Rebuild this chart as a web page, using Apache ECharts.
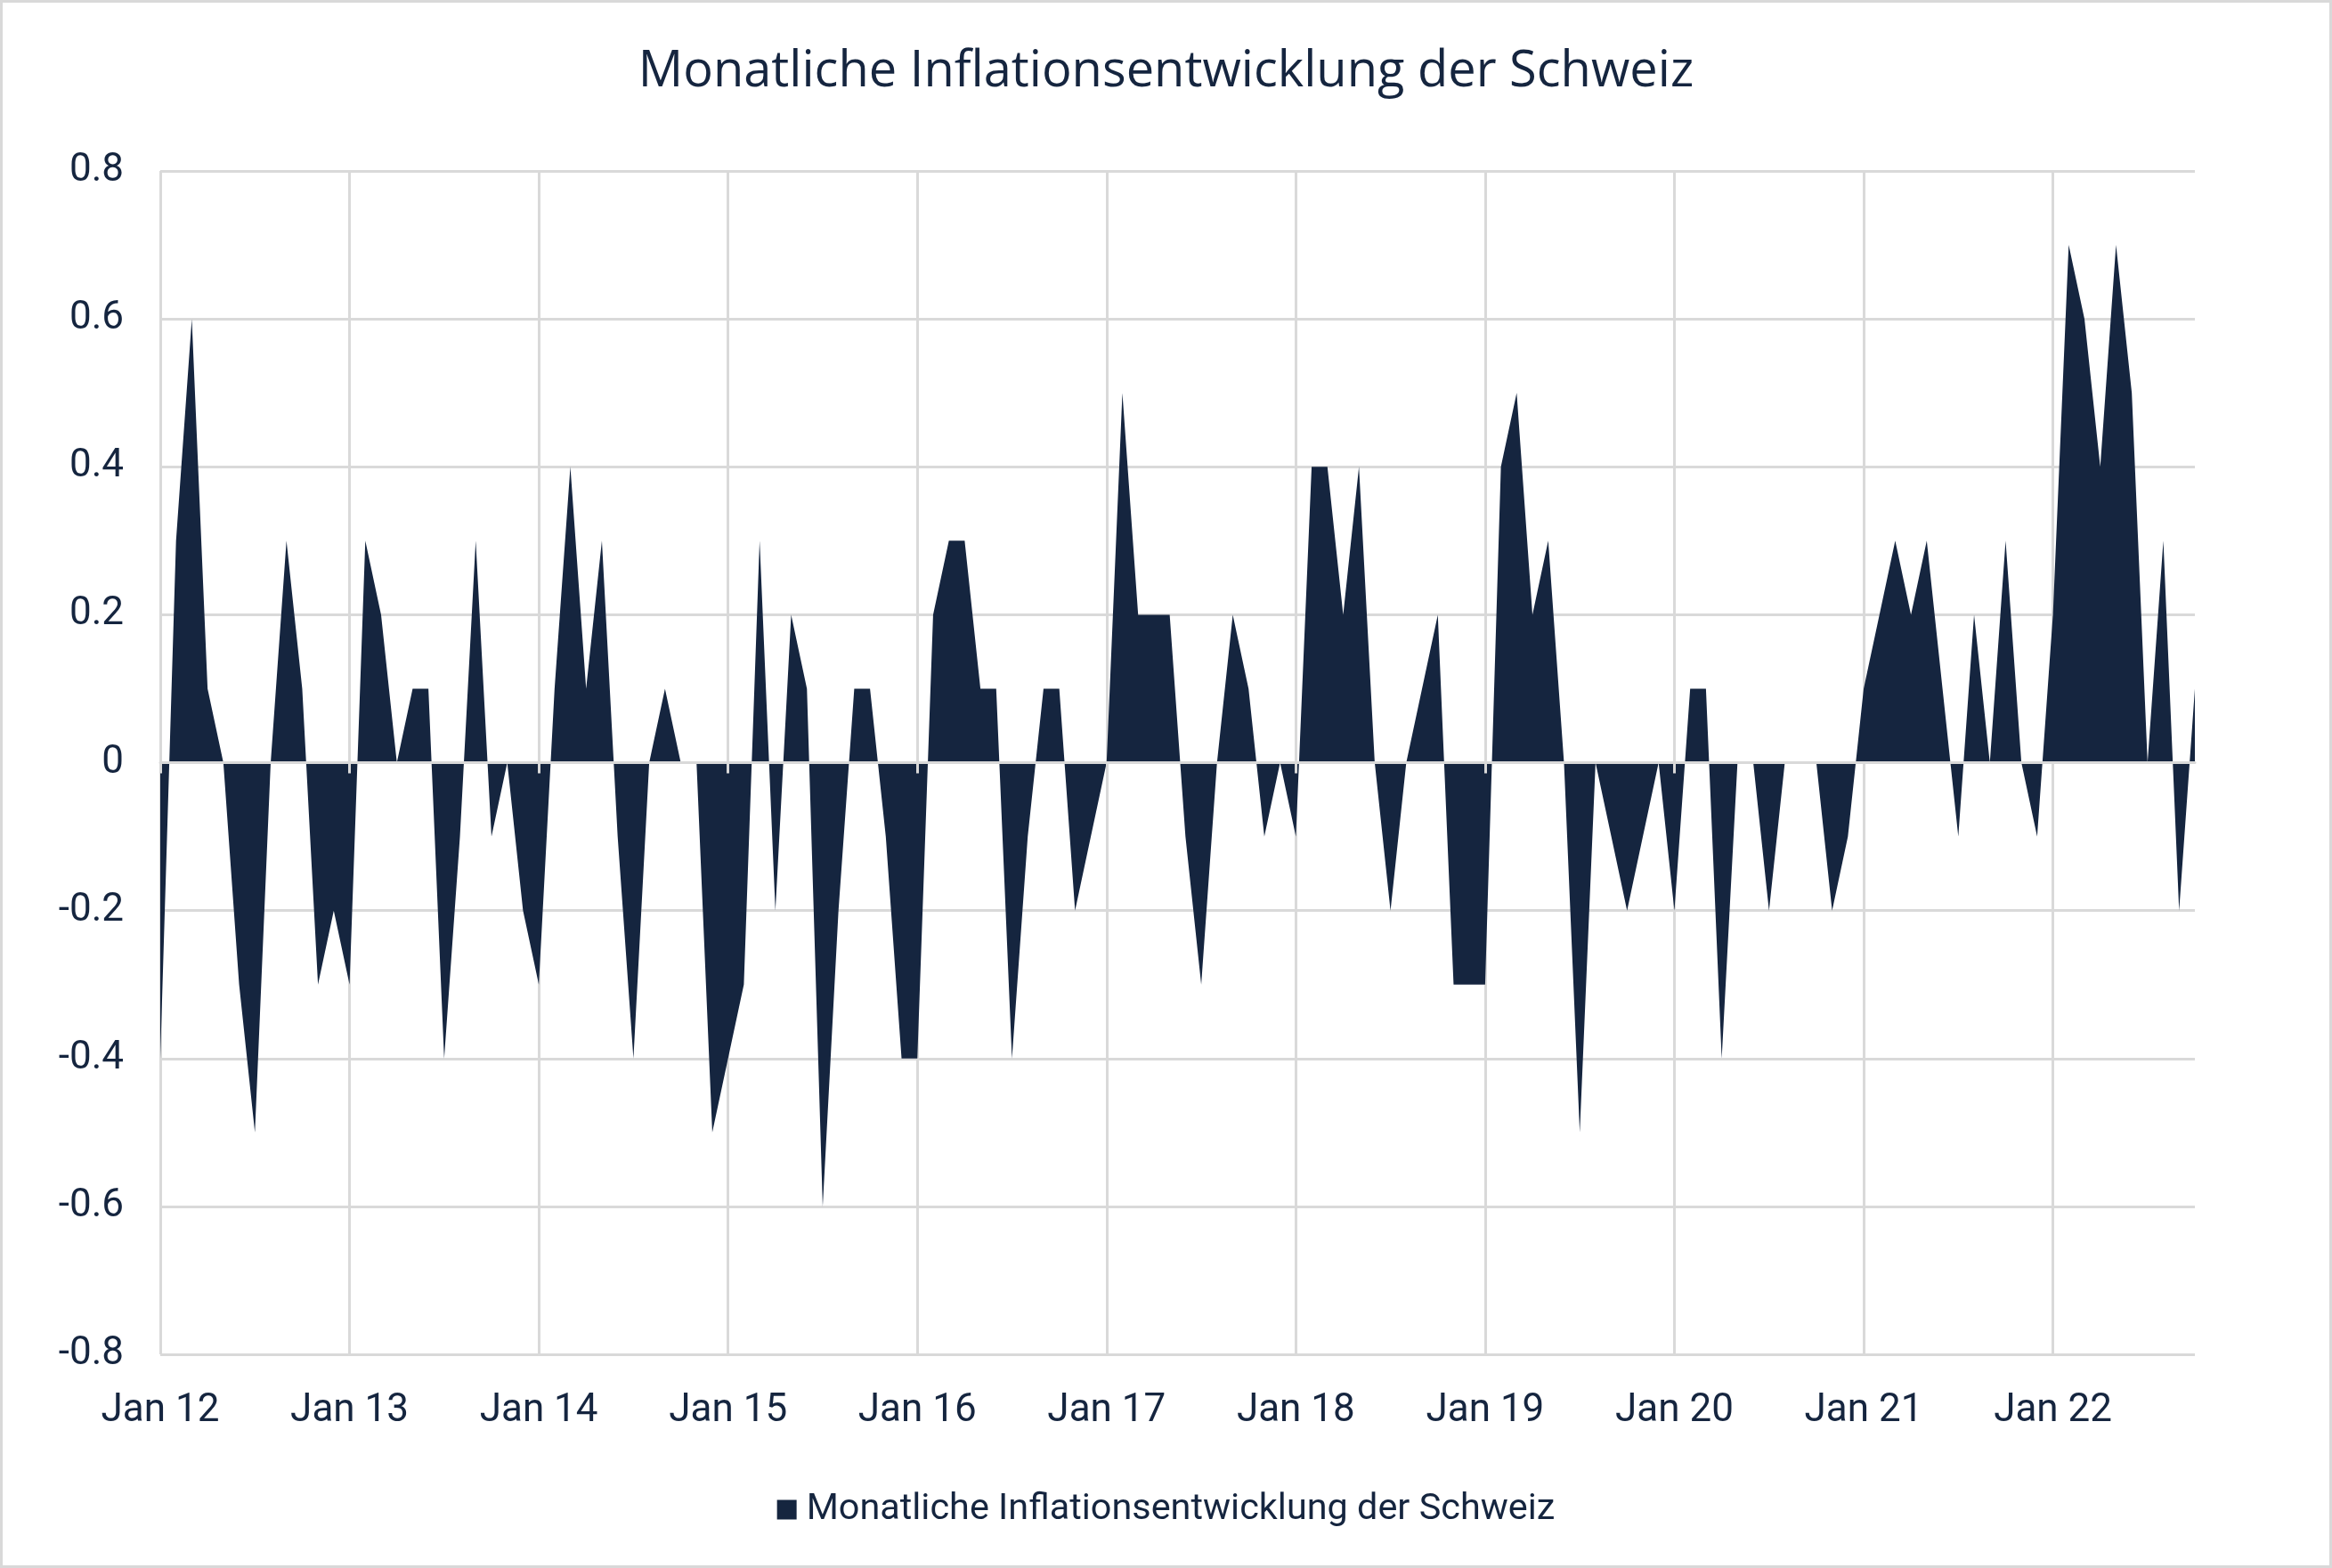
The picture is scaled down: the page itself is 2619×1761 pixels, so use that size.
<!DOCTYPE html>
<html>
<head>
<meta charset="utf-8">
<script src="https://cdn.jsdelivr.net/npm/echarts@6/dist/echarts.min.js"></script>
<style>
html, body { margin: 0; padding: 0; background: #ffffff; }
#chart { width: 2619px; height: 1761px; }
</style>
</head>
<body>
<div id="chart"></div>
<script>
// Monthly CPI change (%), Switzerland, Jan 2012 – Oct 2022
var y2012 = [-0.4, 0.3, 0.6, 0.1, 0.0, -0.3, -0.5, 0.0, 0.3, 0.1, -0.3, -0.2];
var y2013 = [-0.3, 0.3, 0.2, 0.0, 0.1, 0.1, -0.4, -0.1, 0.3, -0.1, 0.0, -0.2];
var y2014 = [-0.3, 0.1, 0.4, 0.1, 0.3, -0.1, -0.4, 0.0, 0.1, 0.0, 0.0, -0.5];
var y2015 = [-0.4, -0.3, 0.3, -0.2, 0.2, 0.1, -0.6, -0.2, 0.1, 0.1, -0.1, -0.4];
var y2016 = [-0.4, 0.2, 0.3, 0.3, 0.1, 0.1, -0.4, -0.1, 0.1, 0.1, -0.2, -0.1];
var y2017 = [0.0, 0.5, 0.2, 0.2, 0.2, -0.1, -0.3, 0.0, 0.2, 0.1, -0.1, 0.0];
var y2018 = [-0.1, 0.4, 0.4, 0.2, 0.4, 0.0, -0.2, 0.0, 0.1, 0.2, -0.3, -0.3];
var y2019 = [-0.3, 0.4, 0.5, 0.2, 0.3, 0.0, -0.5, 0.0, -0.1, -0.2, -0.1, 0.0];
var y2020 = [-0.2, 0.1, 0.1, -0.4, 0.0, 0.0, -0.2, 0.0, 0.0, 0.0, -0.2, -0.1];
var y2021 = [0.1, 0.2, 0.3, 0.2, 0.3, 0.1, -0.1, 0.2, 0.0, 0.3, 0.0, -0.1];
var y2022 = [0.2, 0.7, 0.6, 0.4, 0.7, 0.5, 0.0, 0.3, -0.2, 0.1];

var yearLabels = ['12', '13', '14', '15', '16', '17', '18', '19', '20', '21', '22'];
var monthNames = ['Jan', 'Feb', 'Mrz', 'Apr', 'Mai', 'Jun', 'Jul', 'Aug', 'Sep', 'Okt', 'Nov', 'Dez'];
var yearValues = [y2012, y2013, y2014, y2015, y2016, y2017, y2018, y2019, y2020, y2021, y2022];

var seriesName = 'Monatliche Inflationsentwicklung der Schweiz';
var titleText = 'Monatliche Inflationsentwicklung der Schweiz';

var categories = [];
var values = [];
yearValues.forEach(function (arr, yi) {
  arr.forEach(function (v, mi) {
    categories.push(monthNames[mi] + ' ' + yearLabels[yi]);
    values.push(v);
  });
});

var navy = '#15253f';
var grey = '#d9d9d9';

var chart = echarts.init(document.getElementById('chart'), null, { renderer: 'canvas' });
chart.setOption({
  animation: false,
  backgroundColor: '#ffffff',
  title: {
    text: titleText,
    left: 'center',
    top: 48,
    textStyle: { fontFamily: 'Open Sans', fontSize: 56, fontWeight: 'normal', color: navy }
  },
  legend: {
    data: [{ name: seriesName, icon: 'rect' }],
    left: 'center',
    top: 1670,
    itemWidth: 22,
    itemHeight: 22,
    textStyle: { fontFamily: 'Roboto', fontSize: 41.4, color: navy, padding: [0, 0, 0, 6] }
  },
  grid: { left: 180, right: 154, top: 192, bottom: 240, containLabel: false },
  xAxis: [
    {
      type: 'category',
      data: categories,
      boundaryGap: false,
      position: 'bottom',
      axisLine: { show: false, onZero: false },
      axisTick: { show: false },
      axisLabel: {
        interval: 11,
        margin: 42,
        fontFamily: 'Roboto',
        fontSize: 44,
        color: navy
      },
      splitLine: { show: true, interval: 11, lineStyle: { color: grey, width: 3 } }
    },
    {
      type: 'category',
      data: categories,
      boundaryGap: false,
      position: 'bottom',
      z: 10,
      axisLine: { show: true, onZero: true, onZeroAxisIndex: 0, lineStyle: { color: grey, width: 3 } },
      axisTick: { show: true, interval: 11, length: 12, lineStyle: { color: grey, width: 3 } },
      axisLabel: { show: false },
      splitLine: { show: false }
    }
  ],
  yAxis: {
    type: 'value',
    min: -0.8,
    max: 0.8,
    interval: 0.2,
    axisLine: { show: false },
    axisTick: { show: false },
    axisLabel: {
      margin: 41,
      fontFamily: 'Roboto',
      fontSize: 44,
      color: navy,
      formatter: function (v) { return String(Math.round(v * 10) / 10); }
    },
    splitLine: { show: true, lineStyle: { color: grey, width: 3 } }
  },
  series: [
    {
      name: seriesName,
      type: 'line',
      xAxisIndex: 0,
      data: values,
      showSymbol: false,
      symbol: 'none',
      color: navy,
      itemStyle: { color: navy },
      lineStyle: { width: 0, color: navy },
      areaStyle: { color: navy, opacity: 1 },
      z: 2
    }
  ],
  graphic: [
    {
      type: 'rect',
      silent: true,
      z: 100,
      shape: { x: 1.5, y: 1.5, width: 2616, height: 1758 },
      style: { fill: 'none', stroke: grey, lineWidth: 3 }
    }
  ]
});
</script>
</body>
</html>
